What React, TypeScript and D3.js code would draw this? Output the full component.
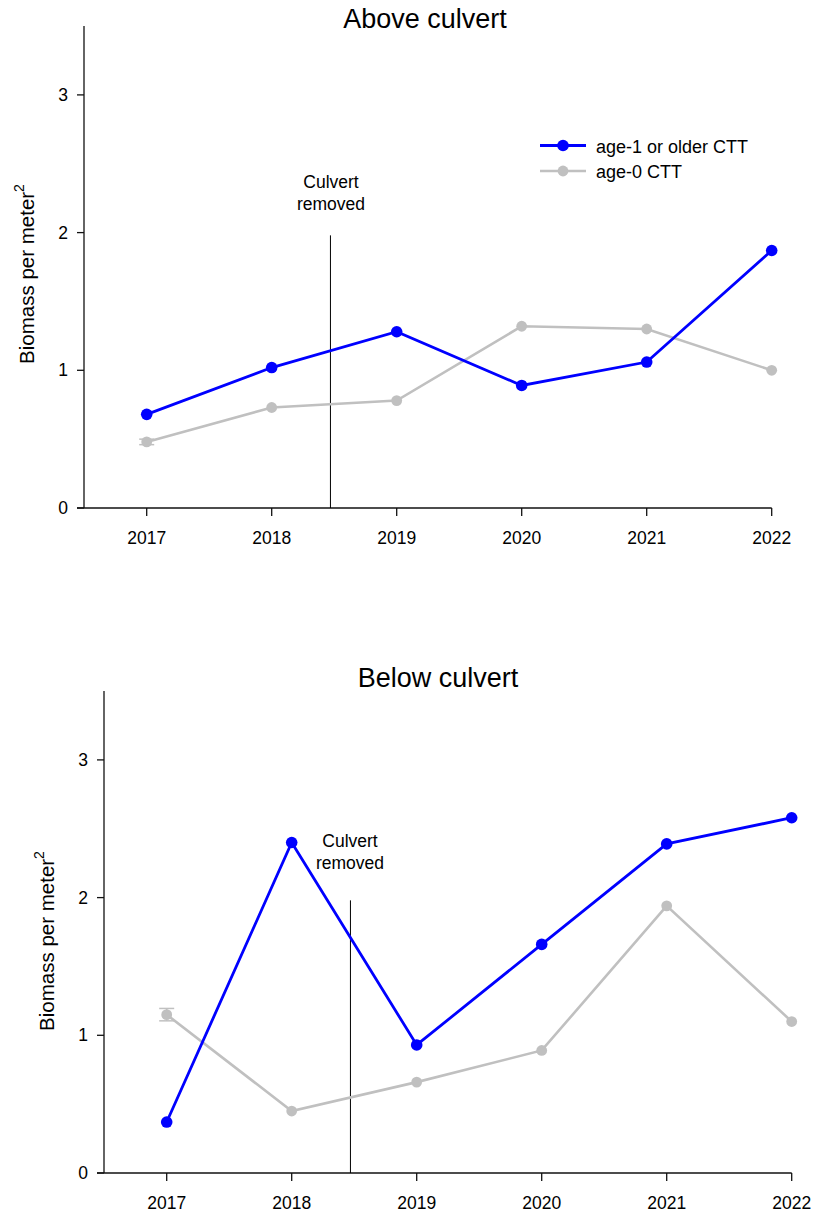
import React from "react";
import * as d3 from "d3";

// Survey years and biomass (g per m²) for cutthroat trout, two reaches
const years = [2017, 2018, 2019, 2020, 2021, 2022];

const aboveOlder = [0.68, 1.02, 1.28, 0.89, 1.06, 1.87];
const aboveAge0 = [0.48, 0.73, 0.78, 1.32, 1.3, 1.0];
const aboveAge0Err = [0.02, 0, 0, 0, 0, 0];

const belowOlder = [0.37, 2.4, 0.93, 1.66, 2.39, 2.58];
const belowAge0 = [1.15, 0.45, 0.66, 0.89, 1.94, 1.1];
const belowAge0Err = [0.045, 0, 0, 0, 0, 0];

const yTicks = [0, 1, 2, 3];
const removalYear = 2018.47;
const removalTop = 1.98;

const legendLabels = ["age-1 or older CTT", "age-0 CTT"];

const BLUE = "#0000ff";
const GREY = "#c0c0c0";
const FONT = "'Liberation Sans', Arial, sans-serif";

type PanelProps = {
  title: string;
  titleX: number;
  titleY: number;
  axisX: number;
  axisBottom: number;
  firstX: number;
  older: number[];
  age0: number[];
  age0Err: number[];
  noteX: number;
  noteY: number;
  labelY: number;
  legend?: boolean;
};

function Panel(p: PanelProps) {
  const unit = 137.7;
  const x = d3
    .scaleLinear()
    .domain([2017, 2022])
    .range([p.firstX, p.firstX + 625]);
  const y = d3
    .scaleLinear()
    .domain([0, 3.5])
    .range([p.axisBottom, p.axisBottom - 3.5 * unit]);

  const line = d3
    .line<number>()
    .x((_, i) => x(years[i]))
    .y((d) => y(d));

  const labelX = p.axisX - 50;

  return (
    <g fontFamily={FONT}>
      <text x={p.titleX} y={p.titleY} fontSize={27} textAnchor="middle" fill="#000">
        {p.title}
      </text>

      {/* axes */}
      <line x1={p.axisX} x2={p.axisX} y1={y(3.5)} y2={p.axisBottom} stroke="#111" strokeWidth={1.3} />
      <line x1={p.axisX - 7} x2={x(2022)} y1={p.axisBottom} y2={p.axisBottom} stroke="#111" strokeWidth={1.3} />
      {yTicks.map((t) => (
        <g key={t}>
          <line x1={p.axisX - 7} x2={p.axisX} y1={y(t)} y2={y(t)} stroke="#111" strokeWidth={1.3} />
          <text x={p.axisX - 16} y={y(t) + 6} fontSize={17.5} textAnchor="end" fill="#000">
            {t}
          </text>
        </g>
      ))}
      {years.map((yr) => (
        <g key={yr}>
          <line x1={x(yr)} x2={x(yr)} y1={p.axisBottom} y2={p.axisBottom + 8} stroke="#111" strokeWidth={1.3} />
          <text x={x(yr)} y={p.axisBottom + 36} fontSize={17.5} textAnchor="middle" fill="#000">
            {yr}
          </text>
        </g>
      ))}

      <text
        transform={`translate(${labelX},${p.labelY}) rotate(-90)`}
        fontSize={20.5}
        textAnchor="middle"
        fill="#000"
      >
        Biomass per meter
        <tspan fontSize={14} dy={-10}>2</tspan>
      </text>

      {/* culvert removal */}
      <line
        x1={x(removalYear)}
        x2={x(removalYear)}
        y1={y(removalTop)}
        y2={p.axisBottom}
        stroke="#000"
        strokeWidth={1}
      />
      <text x={p.noteX} y={p.noteY} fontSize={17.5} textAnchor="middle" fill="#000">
        <tspan x={p.noteX}>Culvert</tspan>
        <tspan x={p.noteX} dy={22}>removed</tspan>
      </text>

      {/* age-0 series */}
      <path d={line(p.age0) ?? ""} fill="none" stroke={GREY} strokeWidth={2.6} />
      {p.age0.map((v, i) =>
        p.age0Err[i] > 0 ? (
          <g key={`e${i}`} stroke={GREY} strokeWidth={1.5}>
            <line x1={x(years[i])} x2={x(years[i])} y1={y(v - p.age0Err[i])} y2={y(v + p.age0Err[i])} />
            <line x1={x(years[i]) - 7.5} x2={x(years[i]) + 7.5} y1={y(v - p.age0Err[i])} y2={y(v - p.age0Err[i])} />
            <line x1={x(years[i]) - 7.5} x2={x(years[i]) + 7.5} y1={y(v + p.age0Err[i])} y2={y(v + p.age0Err[i])} />
          </g>
        ) : null
      )}
      {p.age0.map((v, i) => (
        <circle key={`g${i}`} cx={x(years[i])} cy={y(v)} r={5.4} fill={GREY} />
      ))}

      {/* age-1+ series */}
      <path d={line(p.older) ?? ""} fill="none" stroke={BLUE} strokeWidth={2.8} />
      {p.older.map((v, i) => (
        <circle key={`b${i}`} cx={x(years[i])} cy={y(v)} r={5.8} fill={BLUE} />
      ))}

      {p.legend && (
        <g>
          <line x1={540} x2={586} y1={145.5} y2={145.5} stroke={BLUE} strokeWidth={2.8} />
          <circle cx={563} cy={145.5} r={5.8} fill={BLUE} />
          <text x={596} y={152.5} fontSize={18} fill="#000">{legendLabels[0]}</text>
          <line x1={540} x2={586} y1={171} y2={171} stroke={GREY} strokeWidth={2.6} />
          <circle cx={563} cy={171} r={5.4} fill={GREY} />
          <text x={596} y={178} fontSize={18} fill="#000">{legendLabels[1]}</text>
        </g>
      )}
    </g>
  );
}

export default function App() {
  return (
    <svg
      width={814}
      height={1214}
      style={{ position: "absolute", left: 0, top: 0, background: "#fff" }}
    >
      <rect width={814} height={1214} fill="#fff" />
      <Panel
        title="Above culvert"
        titleX={425}
        titleY={28}
        axisX={84}
        axisBottom={508}
        firstX={146.7}
        older={aboveOlder}
        age0={aboveAge0}
        age0Err={aboveAge0Err}
        noteX={331}
        noteY={188}
        labelY={274}
        legend
      />
      <Panel
        title="Below culvert"
        titleX={438}
        titleY={687}
        axisX={104}
        axisBottom={1173}
        firstX={166.7}
        older={belowOlder}
        age0={belowAge0}
        age0Err={belowAge0Err}
        noteX={350}
        noteY={847}
        labelY={941}
      />
    </svg>
  );
}
